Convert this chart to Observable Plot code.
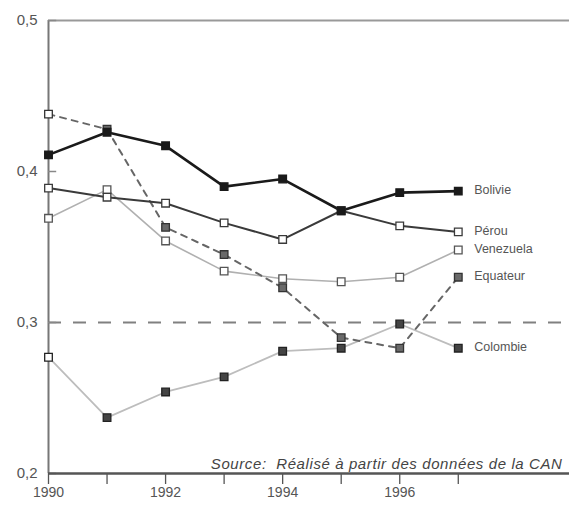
<!DOCTYPE html>
<html>
<head>
<meta charset="utf-8">
<script src="https://cdn.jsdelivr.net/npm/d3@7"></script>
<script src="https://cdn.jsdelivr.net/npm/@observablehq/plot@0.6"></script>
<style>
  html, body { margin: 0; padding: 0; background: #fff; }
  svg { display: block; }
  .source-text text { letter-spacing: 0.6px; }
</style>
</head>
<body>
<div id="chart"></div>
<script>
const years = [1990, 1991, 1992, 1993, 1994, 1995, 1996, 1997];
const bolivie   = [0.411, 0.426, 0.417, 0.390, 0.395, 0.374, 0.386, 0.387];
const perou     = [0.389, 0.383, 0.379, 0.366, 0.355, 0.374, 0.364, 0.360];
const venezuela = [0.369, 0.388, 0.354, 0.334, 0.329, 0.327, 0.330, 0.348];
const equateur  = [0.438, 0.428, 0.363, 0.345, 0.323, 0.290, 0.283, 0.330];
const colombie  = [0.277, 0.237, 0.254, 0.264, 0.281, 0.283, 0.299, 0.283];
const seriesNames = ["Venezuela", "Colombie", "Equateur", "Pérou", "Bolivie"];
const seriesValues = [venezuela, colombie, equateur, perou, bolivie];
const yTicks = [0.2, 0.3, 0.4, 0.5];
const xLabelYears = [1990, 1992, 1994, 1996];
const reference = 0.3;
const sourceText = "Source:  Réalisé à partir des données de la CAN";

const styles = {
  "Bolivie":   {stroke: "#1a1a1a", width: 2.6, dash: null,  fill: "#1a1a1a", mstroke: "#1a1a1a"},
  "Pérou":     {stroke: "#3a3a3a", width: 2.0, dash: null,  fill: "#ffffff", mstroke: "#3a3a3a"},
  "Venezuela": {stroke: "#b0b0b0", width: 1.6, dash: null,  fill: "#ffffff", mstroke: "#555555"},
  "Equateur":  {stroke: "#666666", width: 2.0, dash: "6,6", fill: "#6a6a6a", mstroke: "#333333"},
  "Colombie":  {stroke: "#bdbdbd", width: 1.8, dash: null,  fill: "#444444", mstroke: "#222222"}
};

const rows = seriesNames.flatMap((name, i) =>
  years.map((year, j) => ({series: name, year, value: seriesValues[i][j]})));

const seriesMarks = seriesNames.map(name => {
  const s = styles[name];
  const data = rows.filter(r => r.series === name);
  return Plot.line(data, {x: "year", y: "value", stroke: s.stroke, strokeWidth: s.width,
    strokeDasharray: s.dash ?? undefined, strokeLinejoin: "miter"});
});
const dotMarks = seriesNames.map(name => {
  const s = styles[name];
  const data = rows.filter(r => r.series === name);
  const openFirst = name === "Equateur" || name === "Colombie";
  return Plot.dot(data, {x: "year", y: "value", symbol: "square", r: 4.3,
    fill: d => (openFirst && d.year === 1990) ? "#ffffff" : s.fill,
    stroke: s.mstroke, strokeWidth: 1.3});
});
const labelMarks = seriesNames.map(name =>
  Plot.text(rows.filter(r => r.series === name), Plot.selectLast({
    x: "year", y: "value", text: d => d.series, dx: 16, dy: -1,
    textAnchor: "start", fontSize: 12.5, fill: "#555"
  })));

const chart = Plot.plot({
  width: 569,
  height: 505,
  marginLeft: 48,
  marginRight: 0,
  marginTop: 20,
  marginBottom: 32,
  style: {fontFamily: "'Liberation Sans', Arial, sans-serif", background: "#fff"},
  x: {domain: [1990, 1998.9]},
  y: {domain: [0.2, 0.5]},
  marks: [
    Plot.ruleY([reference], {stroke: "#808080", strokeWidth: 2, strokeDasharray: "13,12"}),
    Plot.ruleY([0.5], {stroke: "#999", strokeWidth: 2}),
    Plot.ruleX([1990], {stroke: "#777", strokeWidth: 2}),
    Plot.ruleY(yTicks, {x1: 1990, x2: 1990.14, stroke: "#888", strokeWidth: 1.5}),
    Plot.axisY({ticks: yTicks, tickSize: 0, tickPadding: 11, fontSize: 15, fill: "#555",
      tickFormat: d => d.toFixed(1).replace(".", ","), label: null}),
    Plot.axisX({ticks: years, tickSize: 11, tickPadding: 3, fontSize: 14, fill: "#555",
      stroke: "#555", strokeWidth: 1.3,
      tickFormat: d => xLabelYears.includes(d) ? String(d) : "", label: null}),
    ...seriesMarks,
    ...dotMarks,
    ...labelMarks,
    Plot.text([sourceText], {frameAnchor: "bottom-right", dx: -7, dy: -5,
      lineAnchor: "bottom", fontSize: 15, fontStyle: "italic", fill: "#444",
      className: "source-text"}),
    Plot.ruleY([0.2], {stroke: "#555", strokeWidth: 2.5})
  ]
});
document.getElementById("chart").appendChild(chart);
</script>
</body>
</html>
